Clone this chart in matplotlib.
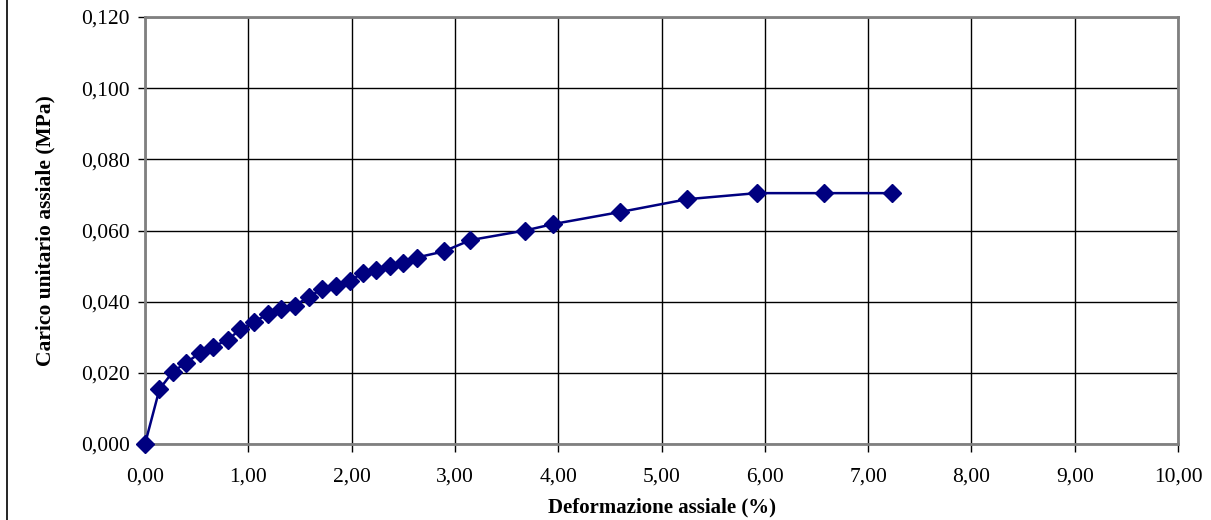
import matplotlib
matplotlib.use("Agg")
import matplotlib.pyplot as plt
from matplotlib.lines import Line2D
from matplotlib.ticker import FuncFormatter, MultipleLocator

# Data
deformazione = [0.00, 0.14, 0.27, 0.40, 0.53, 0.66, 0.80, 0.92, 1.06, 1.19,
                1.32, 1.45, 1.59, 1.71, 1.85, 1.98, 2.11, 2.24, 2.37, 2.50,
                2.63, 2.89, 3.15, 3.68, 3.95, 4.60, 5.25, 5.92, 6.57, 7.23]
carico = [0.0000, 0.0154, 0.0203, 0.0229, 0.0255, 0.0274, 0.0292, 0.0322, 0.0344, 0.0365,
          0.0380, 0.0389, 0.0414, 0.0435, 0.0444, 0.0458, 0.0481, 0.0489, 0.0500, 0.0508,
          0.0524, 0.0541, 0.0573, 0.0600, 0.0618, 0.0652, 0.0688, 0.0705, 0.0705, 0.0705]

x_label = "Deformazione assiale (%)"
y_label = "Carico unitario assiale (MPa)"

plt.rcParams['font.family'] = ['Liberation Serif', 'DejaVu Serif']

fig = plt.figure(figsize=(12.11, 5.20), dpi=100)
ax = fig.add_axes([145/1211, 1 - 444/520, (1178-145)/1211, (444-17)/520])

ax.plot(deformazione, carico, color='#000080', linewidth=1.8, marker='D',
        markersize=9.5, markerfacecolor='#000080', markeredgecolor='#000080',
        zorder=3, clip_on=False)

ax.set_xlim(0, 10)
ax.set_ylim(0, 0.120)
ax.xaxis.set_major_locator(MultipleLocator(1))
ax.yaxis.set_major_locator(MultipleLocator(0.02))
ax.xaxis.set_major_formatter(FuncFormatter(lambda v, p: f"{v:.2f}".replace('.', ',')))
ax.yaxis.set_major_formatter(FuncFormatter(lambda v, p: f"{v:.3f}".replace('.', ',')))

ax.grid(True, color='black', linewidth=1.0)
ax.set_axisbelow(True)
for s in ax.spines.values():
    s.set_color('#808080')
    s.set_linewidth(2.0)

ax.tick_params(axis='both', direction='out', length=5, width=1, color='black',
               labelsize=15.5)
ax.tick_params(axis='y', pad=6)
ax.tick_params(axis='x', length=6, pad=11)

ax.set_xlabel(x_label, fontsize=15, fontweight='bold', labelpad=8)
ax.set_ylabel(y_label, fontsize=15.5, fontweight='bold', labelpad=18)

fig.add_artist(Line2D([6.5/1211, 6.5/1211], [0, 1], color='black', linewidth=1.2,
                      transform=fig.transFigure))

fig.savefig("out.png", dpi=100)
